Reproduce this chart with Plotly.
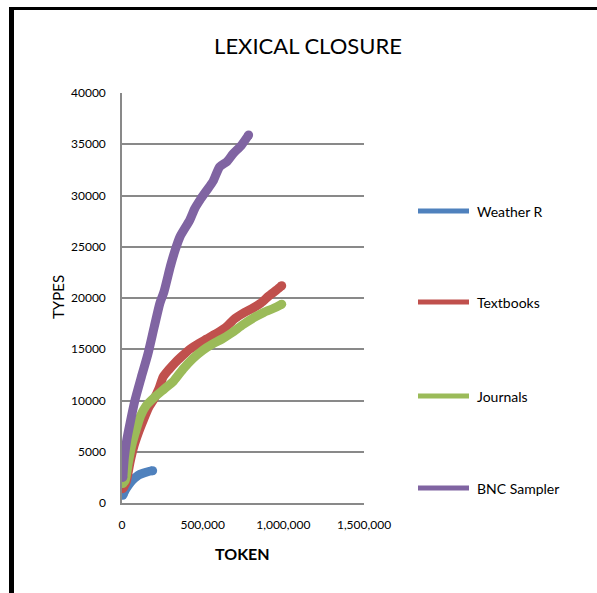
import plotly.graph_objects as go

# Cumulative token counts (x) and distinct word types (y) for each corpus
weather_tokens = [5000, 20000, 40000, 60000, 80000, 100000, 130000, 160000, 190000]
weather_types = [750, 1250, 1750, 2150, 2450, 2700, 2900, 3050, 3150]

textbook_tokens = [5000, 25000, 50000, 75000, 105000, 135000, 165000, 200000, 230000,
                   255000, 290000, 330000, 370000, 420000, 470000, 525000, 580000,
                   640000, 700000, 760000, 810000, 860000, 910000, 960000, 990000]
textbook_types = [1400, 2000, 4000, 5600, 7000, 8200, 9300, 10200, 11200,
                  12300, 13000, 13700, 14300, 15000, 15500, 16000, 16500,
                  17100, 18000, 18600, 19000, 19500, 20200, 20800, 21200]

journal_tokens = [5000, 20000, 40000, 60000, 85000, 115000, 150000, 200000, 260000,
                  320000, 380000, 440000, 500000, 560000, 620000, 680000, 750000,
                  820000, 880000, 940000, 990000]
journal_types = [1900, 2200, 4000, 5600, 7000, 8500, 9500, 10300, 11100,
                 11900, 13100, 14100, 14900, 15500, 16000, 16600, 17400,
                 18100, 18600, 19000, 19400]

bnc_tokens = [5000, 15000, 30000, 50000, 80000, 120000, 160000, 200000, 235000,
              260000, 300000, 330000, 360000, 420000, 450000, 485000, 525000,
              565000, 605000, 650000, 690000, 740000, 785000]
bnc_types = [2500, 4500, 6200, 7800, 10000, 12300, 14500, 17200, 19500,
             20600, 23100, 24700, 26000, 27600, 28700, 29600, 30500,
             31400, 32800, 33300, 34100, 34900, 35900]

series_names = ["Weather R", "Textbooks", "Journals", "BNC Sampler"]
series_colors = ["#4F81BD", "#C0504D", "#9BBB59", "#8064A2"]
series_data = [
    (weather_tokens, weather_types),
    (textbook_tokens, textbook_types),
    (journal_tokens, journal_types),
    (bnc_tokens, bnc_types),
]

x_ticks = [0, 500000, 1000000, 1500000]
x_tick_labels = ["0", "500,000", "1,000,000", "1,500,000"]

FONT = "Lato"
TEXT = "#000000"
GRID = "#898989"
LINE_W = 9

fig = go.Figure()
for name, color, (xs, ys) in zip(series_names, series_colors, series_data):
    n = len(xs)
    # round caps at both ends of each thick line
    sizes = [LINE_W] + [0] * (n - 2) + [LINE_W]
    fig.add_trace(go.Scatter(
        x=xs, y=ys, name=name, mode="lines+markers",
        line=dict(color=color, width=LINE_W, shape="spline", smoothing=0.6),
        marker=dict(color=color, size=sizes, opacity=1, line=dict(width=0)),
        showlegend=False,
    ))

W, H = 597, 593
L, R, T, B = 122, 233, 93, 90
plot_w, plot_h = W - L - R, H - T - B


def px_x(p):
    return (p - L) / plot_w


def px_y(p):
    return (H - B - p) / plot_h


shapes = []
annotations = []

# legend: a thick line sample followed by the series name
legend_rows = [211, 302, 396, 488]
for name, color, row in zip(series_names, series_colors, legend_rows):
    shapes.append(dict(type="line", xref="paper", yref="paper",
                       x0=px_x(418), x1=px_x(469), y0=px_y(row), y1=px_y(row),
                       line=dict(color=color, width=5)))
    annotations.append(dict(xref="paper", yref="paper", x=px_x(475), y=px_y(row),
                            text=name, showarrow=False, xanchor="left", yanchor="middle",
                            font=dict(family=FONT, size=14, color=TEXT)))

# axis titles
annotations.append(dict(xref="paper", yref="paper", x=px_x(58), y=px_y(297),
                        text="TYPES", textangle=-90, showarrow=False,
                        xanchor="center", yanchor="middle",
                        font=dict(family=FONT, size=15, color=TEXT)))
annotations.append(dict(xref="paper", yref="paper", x=px_x(242.5), y=px_y(553),
                        text="<b>TOKEN</b>", showarrow=False,
                        xanchor="center", yanchor="middle",
                        font=dict(family=FONT, size=16, color=TEXT)))

# black frame along the left and top edges
shapes.append(dict(type="rect", xref="paper", yref="paper", layer="above",
                   x0=px_x(9), x1=px_x(14), y0=px_y(7), y1=px_y(H + 20),
                   fillcolor="black", line=dict(width=0)))
shapes.append(dict(type="rect", xref="paper", yref="paper", layer="above",
                   x0=px_x(9), x1=px_x(W + 20), y0=px_y(7), y1=px_y(10),
                   fillcolor="black", line=dict(width=0)))

fig.update_layout(
    width=W, height=H,
    margin=dict(l=L, r=R, t=T, b=B),
    paper_bgcolor="white", plot_bgcolor="white",
    title=dict(text="LEXICAL CLOSURE", xref="container", yref="container",
               x=308 / W, y=1 - 46 / H, xanchor="center", yanchor="middle",
               font=dict(family=FONT, size=22, color=TEXT)),
    font=dict(family=FONT, color=TEXT),
    shapes=shapes,
    annotations=annotations,
    xaxis=dict(range=[0, 1500000], tickvals=x_ticks, ticktext=x_tick_labels,
               showgrid=False, zeroline=False, showline=True, linecolor=GRID,
               linewidth=1.5, ticks="", ticklabelstandoff=10,
               tickfont=dict(family=FONT, size=12, color=TEXT)),
    yaxis=dict(range=[0, 40000], dtick=5000, tickformat="d",
               showgrid=True, gridcolor=GRID, gridwidth=1.5,
               zeroline=False, showline=True, linecolor=GRID, linewidth=1.5,
               ticks="", ticklabelstandoff=12,
               tickfont=dict(family=FONT, size=12, color=TEXT)),
)

fig.write_html("out.html")
